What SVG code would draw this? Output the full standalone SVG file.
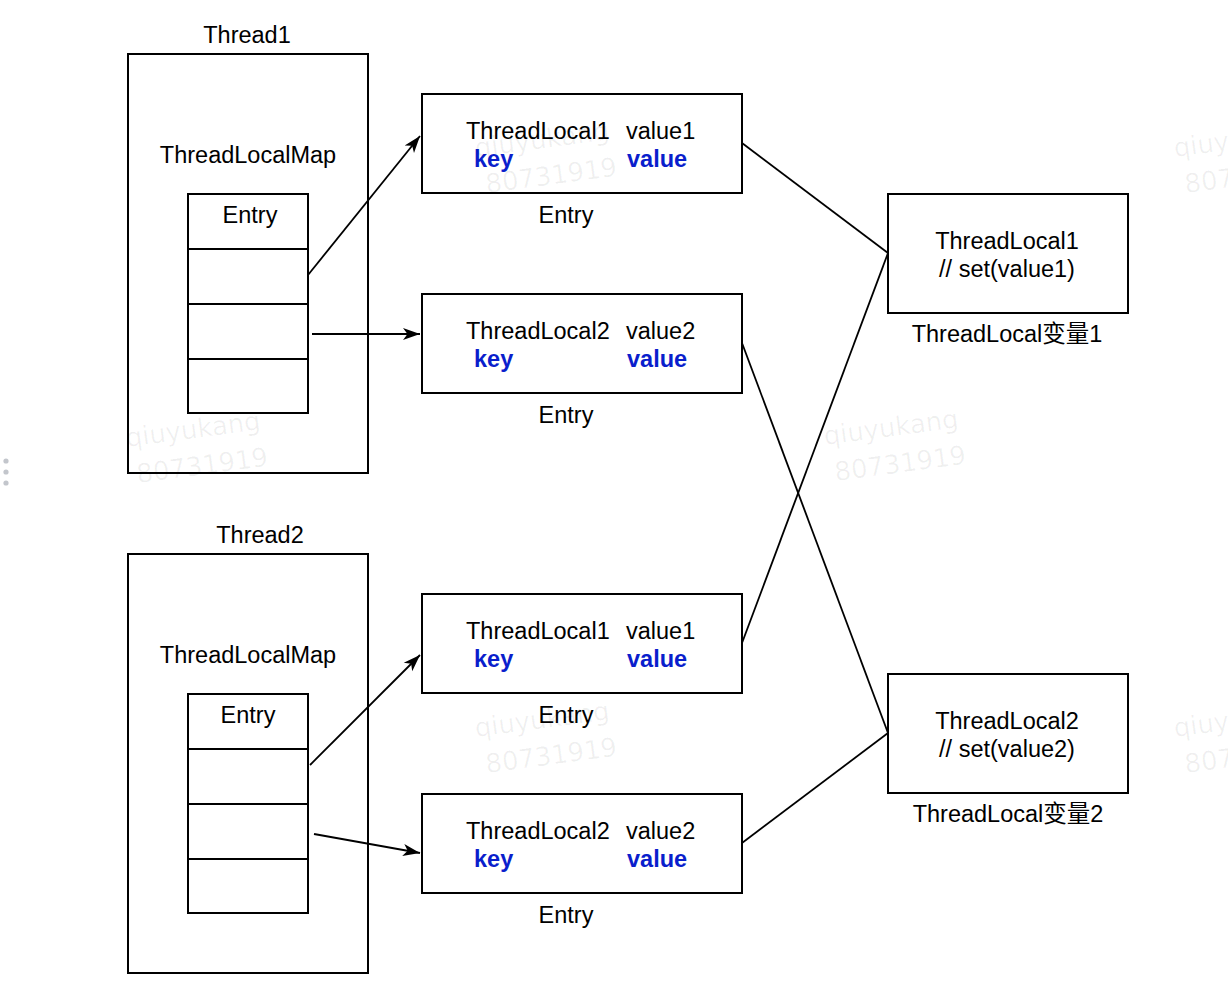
<svg xmlns="http://www.w3.org/2000/svg" width="1228" height="994" viewBox="0 0 1228 994">
<style>
  .box{fill:#fff;stroke:#000;stroke-width:2}
  .ln{fill:none;stroke:#000;stroke-width:1.8}
  .t{font-family:"Liberation Sans",Arial,sans-serif;font-size:23.5px;fill:#000}
  .c{text-anchor:middle}
  .b{font-family:"Liberation Sans",Arial,sans-serif;font-size:23.5px;font-weight:bold;fill:#0a1ecc}
  .wm{font-family:"DejaVu Sans",sans-serif;font-size:26px;fill:#000;fill-opacity:0.06}
  .dot{fill:#c3c6cc}
</style>
<defs>
  <marker id="arr" markerUnits="userSpaceOnUse" markerWidth="18" markerHeight="14" refX="17" refY="7" orient="auto">
    <path d="M0,1 L17,7 L0,13 L4.5,7 Z" fill="#000"/>
  </marker>
</defs>
<rect width="1228" height="994" fill="#fff"/>

<g id="dots">
  <circle class="dot" cx="6" cy="461" r="2.6"/>
  <circle class="dot" cx="6" cy="472" r="2.6"/>
  <circle class="dot" cx="6" cy="483" r="2.6"/>
</g>

<g id="thread1">
  <text class="t c" x="247" y="43">Thread1</text>
  <rect class="box" x="128" y="54" width="240" height="419"/>
  <text class="t c" x="248" y="163">ThreadLocalMap</text>
</g>
<g id="map1">
  <rect class="box" x="188" y="194" width="120" height="219"/>
  <line class="ln" x1="188" y1="249" x2="308" y2="249" style="stroke-width:2"/>
  <line class="ln" x1="188" y1="304" x2="308" y2="304" style="stroke-width:2"/>
  <line class="ln" x1="188" y1="359" x2="308" y2="359" style="stroke-width:2"/>
  <text class="t c" x="250" y="223">Entry</text>
</g>

<g id="thread2">
  <text class="t c" x="260" y="543">Thread2</text>
  <rect class="box" x="128" y="554" width="240" height="419"/>
  <text class="t c" x="248" y="663">ThreadLocalMap</text>
</g>
<g id="map2">
  <rect class="box" x="188" y="694" width="120" height="219"/>
  <line class="ln" x1="188" y1="749" x2="308" y2="749" style="stroke-width:2"/>
  <line class="ln" x1="188" y1="804" x2="308" y2="804" style="stroke-width:2"/>
  <line class="ln" x1="188" y1="859" x2="308" y2="859" style="stroke-width:2"/>
  <text class="t c" x="248" y="723">Entry</text>
</g>

<g id="entry11">
  <rect class="box" x="422" y="94" width="320" height="99"/>
  <text class="t" x="466" y="138.5">ThreadLocal1</text>
  <text class="t" x="626" y="138.5">value1</text>
  <text class="b" x="474" y="166.5">key</text>
  <text class="b" x="627" y="166.5">value</text>
  <text class="t c" x="566" y="222.5">Entry</text>
</g>
<g id="entry12">
  <rect class="box" x="422" y="294" width="320" height="99"/>
  <text class="t" x="466" y="338.5">ThreadLocal2</text>
  <text class="t" x="626" y="338.5">value2</text>
  <text class="b" x="474" y="366.5">key</text>
  <text class="b" x="627" y="366.5">value</text>
  <text class="t c" x="566" y="422.5">Entry</text>
</g>
<g id="entry21">
  <rect class="box" x="422" y="594" width="320" height="99"/>
  <text class="t" x="466" y="638.5">ThreadLocal1</text>
  <text class="t" x="626" y="638.5">value1</text>
  <text class="b" x="474" y="666.5">key</text>
  <text class="b" x="627" y="666.5">value</text>
  <text class="t c" x="566" y="722.5">Entry</text>
</g>
<g id="entry22">
  <rect class="box" x="422" y="794" width="320" height="99"/>
  <text class="t" x="466" y="838.5">ThreadLocal2</text>
  <text class="t" x="626" y="838.5">value2</text>
  <text class="b" x="474" y="866.5">key</text>
  <text class="b" x="627" y="866.5">value</text>
  <text class="t c" x="566" y="922.5">Entry</text>
</g>

<g id="tl1">
  <rect class="box" x="888" y="194" width="240" height="119"/>
  <text class="t c" x="1007" y="249">ThreadLocal1</text>
  <text class="t c" x="1007" y="277">// set(value1)</text>
  <text class="t c" x="1007" y="342" style="font-family:'Liberation Sans','Noto Sans CJK SC',sans-serif">ThreadLocal变量1</text>
</g>
<g id="tl2">
  <rect class="box" x="888" y="674" width="240" height="119"/>
  <text class="t c" x="1007" y="729">ThreadLocal2</text>
  <text class="t c" x="1007" y="757">// set(value2)</text>
  <text class="t c" x="1008" y="822" style="font-family:'Liberation Sans','Noto Sans CJK SC',sans-serif">ThreadLocal变量2</text>
</g>

<g id="connectors">
  <line class="ln" x1="308" y1="275" x2="420" y2="136" marker-end="url(#arr)"/>
  <line class="ln" x1="312" y1="334" x2="420" y2="334" marker-end="url(#arr)"/>
  <line class="ln" x1="310" y1="765" x2="420" y2="655" marker-end="url(#arr)"/>
  <line class="ln" x1="314" y1="834" x2="420" y2="853" marker-end="url(#arr)"/>
  <line class="ln" x1="742" y1="143" x2="888" y2="253"/>
  <line class="ln" x1="742" y1="643" x2="888" y2="253"/>
  <line class="ln" x1="742" y1="343" x2="888" y2="733"/>
  <line class="ln" x1="742" y1="843" x2="888" y2="733"/>
</g>

<g id="watermarks">
  <g transform="translate(127,447) rotate(-7.5)"><text class="wm" x="0" y="0">qiuyukang</text><text class="wm" x="6" y="37">80731919</text></g>
  <g transform="translate(825,445) rotate(-7.5)"><text class="wm" x="0" y="0">qiuyukang</text><text class="wm" x="6" y="37">80731919</text></g>
  <g transform="translate(476,157) rotate(-7.5)"><text class="wm" x="0" y="0">qiuyukang</text><text class="wm" x="6" y="37">80731919</text></g>
  <g transform="translate(476,737) rotate(-7.5)"><text class="wm" x="0" y="0">qiuyukang</text><text class="wm" x="6" y="37">80731919</text></g>
  <g transform="translate(1175,157) rotate(-7.5)"><text class="wm" x="0" y="0">qiuyukang</text><text class="wm" x="6" y="37">80731919</text></g>
  <g transform="translate(1175,737) rotate(-7.5)"><text class="wm" x="0" y="0">qiuyukang</text><text class="wm" x="6" y="37">80731919</text></g>
  <g transform="translate(127,1027) rotate(-7.5)"><text class="wm" x="0" y="0">qiuyukang</text></g>
  <g transform="translate(825,1025) rotate(-7.5)"><text class="wm" x="0" y="0">qiuyukang</text></g>
</g>
</svg>
